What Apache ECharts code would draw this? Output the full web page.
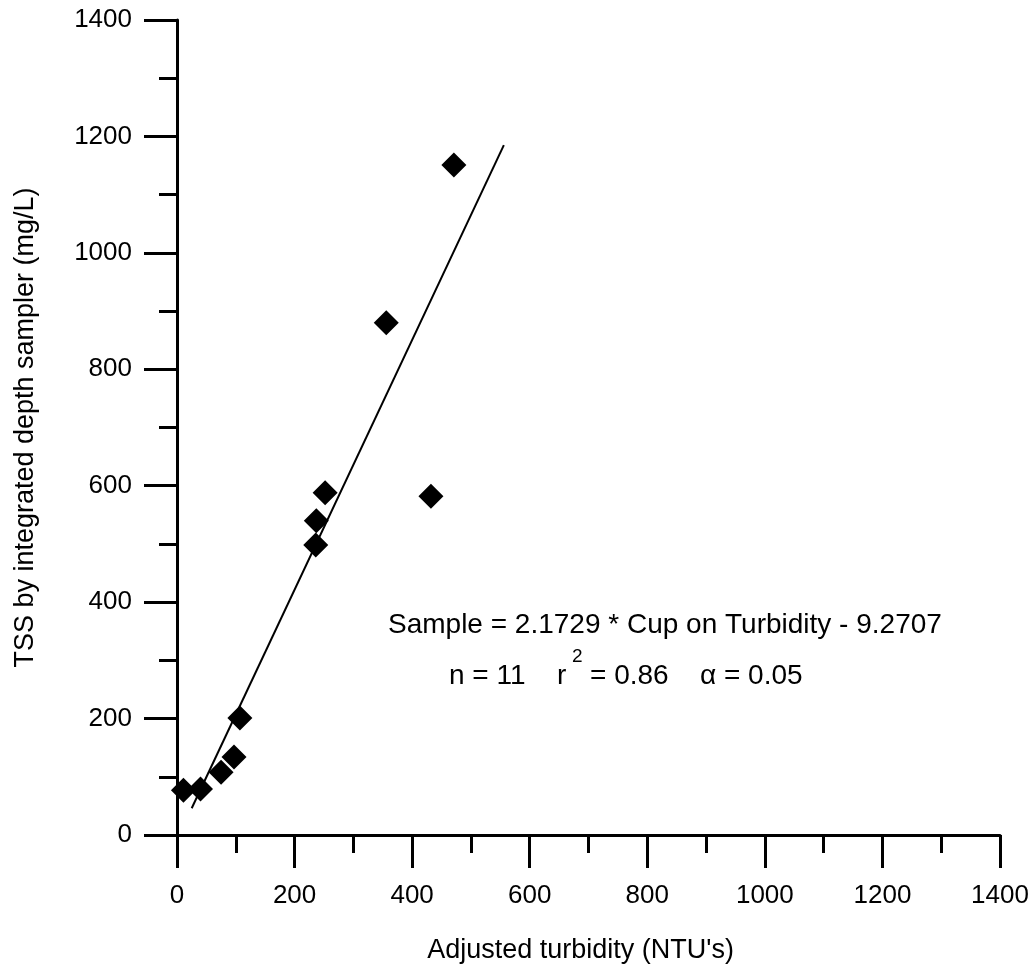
<!DOCTYPE html>
<html>
<head>
<meta charset="utf-8">
<script src="https://cdn.jsdelivr.net/npm/echarts@6/dist/echarts.min.js"></script>
<style>
html,body{margin:0;padding:0;background:#fff;}
#chart{width:1036px;height:972px;}
</style>
</head>
<body>
<div id="chart"></div>
<script>
// Data
const turbidity = [11, 40, 75, 97, 107, 236, 237, 252, 356, 432, 471];
const tss       = [77, 79, 108, 134, 201, 498, 540, 588, 880, 582, 1151];
const fitX = [25, 556];
const fitY = [46, 1185];
const xTicks = [0, 200, 400, 600, 800, 1000, 1200, 1400];
const yTicks = [0, 200, 400, 600, 800, 1000, 1200, 1400];
const eqText = 'Sample = 2.1729 * Cup on Turbidity - 9.2707';
const statN = 'n = 11';
const statR = '= 0.86';
const statA = 'α = 0.05';

const FONT = '"Liberation Sans", Arial, sans-serif';
const points = turbidity.map((x, i) => [x, tss[i]]);
const fit = fitX.map((x, i) => [x, fitY[i]]);

const axisCommon = {
  axisLine: { show: true, onZero: false, lineStyle: { color: '#000', width: 3 } },
  axisTick: { show: true, length: 33, lineStyle: { color: '#000', width: 3 } },
  minorTick: { show: true, splitNumber: 2, length: 18, lineStyle: { color: '#000', width: 3 } },
  splitLine: { show: false },
  nameLocation: 'middle'
};

const chart = echarts.init(document.getElementById('chart'), null, { renderer: 'canvas' });
chart.setOption({
  backgroundColor: '#fff',
  animation: false,
  grid: { left: 177, right: 36, top: 20, bottom: 137, containLabel: false, outerBoundsMode: 'none' },
  xAxis: Object.assign({}, axisCommon, {
    type: 'value',
    min: xTicks[0],
    max: xTicks[xTicks.length - 1],
    interval: xTicks[1] - xTicks[0],
    name: "Adjusted turbidity (NTU's)",
    nameGap: 102,
    nameTextStyle: { fontFamily: FONT, fontSize: 27, color: '#000', padding: [0, 16, 0, 0] },
    axisLabel: { margin: 48, fontFamily: FONT, fontSize: 26, color: '#000', formatter: v => String(v) }
  }),
  yAxis: Object.assign({}, axisCommon, {
    type: 'value',
    min: yTicks[0],
    max: yTicks[yTicks.length - 1],
    interval: yTicks[1] - yTicks[0],
    name: 'TSS by integrated depth sampler (mg/L)',
    nameGap: 138,
    nameRotate: 90,
    nameTextStyle: { fontFamily: FONT, fontSize: 27, color: '#000' },
    axisLabel: { margin: 45, fontFamily: FONT, fontSize: 26, color: '#000', formatter: v => String(v) }
  }),
  series: [
    {
      type: 'line',
      data: fit,
      symbol: 'none',
      lineStyle: { color: '#000', width: 2 },
      z: 2
    },
    {
      type: 'scatter',
      data: points,
      symbol: 'diamond',
      symbolSize: [25, 25],
      itemStyle: { color: '#000', opacity: 1 },
      z: 3
    }
  ],
  graphic: [
    { type: 'text', left: 388, top: 611, style: { text: eqText, font: '28px ' + FONT, fill: '#000' } },
    { type: 'text', left: 449, top: 662, style: { text: statN, font: '28px ' + FONT, fill: '#000' } },
    { type: 'text', left: 557, top: 662, style: { text: 'r', font: '28px ' + FONT, fill: '#000' } },
    { type: 'text', left: 572, top: 647, style: { text: '2', font: '19px ' + FONT, fill: '#000' } },
    { type: 'text', left: 590, top: 662, style: { text: statR, font: '28px ' + FONT, fill: '#000' } },
    { type: 'text', left: 700, top: 662, style: { text: statA, font: '28px ' + FONT, fill: '#000' } }
  ]
});
</script>
</body>
</html>
